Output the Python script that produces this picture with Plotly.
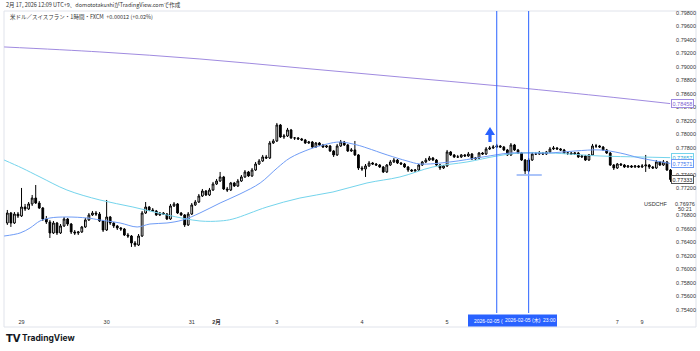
import plotly.graph_objects as go

# ---------------- data (hour index: 0 = 2026-01-29 00:00 JST, closed-market hours skipped) -------------
hours = list(range(-4, 184))
first_open = 0.76689
close = [
    0.76837, 0.76689, 0.76822, 0.76793,
    0.76926, 0.76897, 0.76971, 0.77059, 0.76985, 0.76911, 0.76748, 0.76704, 0.76541, 0.76689,
    0.76541, 0.76645, 0.76748, 0.76674, 0.76556, 0.76541, 0.76556, 0.76630, 0.76734, 0.76808,
    0.76837, 0.76822, 0.76719, 0.76585, 0.76778, 0.76689, 0.76645, 0.76615, 0.76600, 0.76511,
    0.76496, 0.76393, 0.76363, 0.76496, 0.76837, 0.76926, 0.76882, 0.76867, 0.76808, 0.76837,
    0.76822, 0.76748, 0.76941, 0.76971, 0.76837, 0.76808, 0.76660, 0.76822, 0.76956, 0.77000,
    0.77089, 0.77163, 0.77104, 0.77178, 0.77267, 0.77311, 0.77371, 0.77193, 0.77178, 0.77282,
    0.77237, 0.77311, 0.77371, 0.77445, 0.77386, 0.77474, 0.77563, 0.77608, 0.77667, 0.77652,
    0.77874, 0.77904, 0.78141, 0.77963, 0.77978, 0.78067, 0.77949, 0.77949, 0.77934, 0.77919,
    0.77874, 0.77889, 0.77815, 0.77874, 0.77845, 0.77815, 0.77830, 0.77756, 0.77697, 0.77830,
    0.77889, 0.77845, 0.77756, 0.77771, 0.77697, 0.77504, 0.77489, 0.77534, 0.77578, 0.77563,
    0.77548, 0.77519, 0.77445, 0.77548, 0.77593, 0.77622, 0.77578, 0.77563, 0.77519, 0.77474,
    0.77460, 0.77474, 0.77548, 0.77593, 0.77622, 0.77652, 0.77622, 0.77548, 0.77504, 0.77534,
    0.77741, 0.77697, 0.77667, 0.77667, 0.77697, 0.77682, 0.77711, 0.77637, 0.77652, 0.77726,
    0.77711, 0.77786, 0.77800, 0.77815, 0.77830, 0.77815, 0.77771, 0.77697, 0.77845, 0.77771,
    0.77726, 0.77622, 0.77460, 0.77622, 0.77711, 0.77711, 0.77726, 0.77711, 0.77741, 0.77786,
    0.77800, 0.77786, 0.77771, 0.77726, 0.77726, 0.77711, 0.77726, 0.77667, 0.77682, 0.77622,
    0.77697, 0.77830, 0.77830, 0.77815, 0.77771, 0.77726, 0.77548, 0.77504, 0.77563, 0.77548,
    0.77519, 0.77534, 0.77519, 0.77534, 0.77519, 0.77534, 0.77548, 0.77519, 0.77504, 0.77593,
    0.77548, 0.77593, 0.77474, 0.77333,
]
high = [
    0.76882, 0.76852, 0.76852, 0.76852,
    0.77208, 0.76971, 0.77000, 0.77104, 0.77252, 0.77015, 0.76926, 0.76793, 0.76734, 0.76719,
    0.76704, 0.76674, 0.76778, 0.76763, 0.76689, 0.76585, 0.76571, 0.76645, 0.76763, 0.76837,
    0.76867, 0.76867, 0.76852, 0.76734, 0.77030, 0.76793, 0.76704, 0.76660, 0.76630, 0.76615,
    0.76541, 0.76511, 0.76422, 0.76526, 0.76867, 0.77000, 0.76941, 0.76911, 0.76882, 0.76852,
    0.76852, 0.76837, 0.76971, 0.77000, 0.76985, 0.76852, 0.76822, 0.76852, 0.76985, 0.77030,
    0.77119, 0.77193, 0.77178, 0.77208, 0.77297, 0.77341, 0.77445, 0.77386, 0.77223, 0.77297,
    0.77297, 0.77341, 0.77400, 0.77474, 0.77460, 0.77504, 0.77593, 0.77637, 0.77697, 0.77697,
    0.77904, 0.77934, 0.78171, 0.78156, 0.78008, 0.78097, 0.78082, 0.77963, 0.77963, 0.77949,
    0.77934, 0.77904, 0.77904, 0.77889, 0.77889, 0.77860, 0.77845, 0.77845, 0.77771, 0.77860,
    0.77919, 0.77904, 0.77860, 0.77800, 0.77904, 0.77711, 0.77534, 0.77563, 0.77608, 0.77593,
    0.77578, 0.77563, 0.77534, 0.77563, 0.77622, 0.77652, 0.77637, 0.77593, 0.77578, 0.77534,
    0.77489, 0.77489, 0.77563, 0.77608, 0.77652, 0.77682, 0.77667, 0.77637, 0.77563, 0.77548,
    0.77771, 0.77756, 0.77711, 0.77697, 0.77711, 0.77711, 0.77741, 0.77726, 0.77667, 0.77741,
    0.77741, 0.77815, 0.77830, 0.77845, 0.77860, 0.77845, 0.77830, 0.77786, 0.77874, 0.77860,
    0.77786, 0.77741, 0.77637, 0.77652, 0.77741, 0.77741, 0.77756, 0.77741, 0.77756, 0.77815,
    0.77830, 0.77815, 0.77800, 0.77786, 0.77741, 0.77741, 0.77741, 0.77741, 0.77697, 0.77697,
    0.77711, 0.77860, 0.77860, 0.77845, 0.77830, 0.77786, 0.77741, 0.77563, 0.77578, 0.77578,
    0.77563, 0.77548, 0.77548, 0.77548, 0.77548, 0.77563, 0.77697, 0.77563, 0.77534, 0.77622,
    0.77608, 0.77622, 0.77608, 0.77489,
]
low = [
    0.76660, 0.76630, 0.76674, 0.76763,
    0.76778, 0.76867, 0.76882, 0.76941, 0.76971, 0.76897, 0.76719, 0.76674, 0.76467, 0.76526,
    0.76511, 0.76526, 0.76630, 0.76645, 0.76526, 0.76511, 0.76511, 0.76541, 0.76615, 0.76719,
    0.76793, 0.76793, 0.76704, 0.76556, 0.76571, 0.76660, 0.76615, 0.76585, 0.76571, 0.76496,
    0.76467, 0.76334, 0.76334, 0.76348, 0.76482, 0.76822, 0.76867, 0.76852, 0.76793, 0.76793,
    0.76808, 0.76734, 0.76734, 0.76926, 0.76822, 0.76793, 0.76630, 0.76645, 0.76808, 0.76941,
    0.76985, 0.77074, 0.77089, 0.77089, 0.77163, 0.77252, 0.77297, 0.77178, 0.77148, 0.77163,
    0.77223, 0.77223, 0.77297, 0.77356, 0.77371, 0.77371, 0.77460, 0.77548, 0.77593, 0.77637,
    0.77637, 0.77860, 0.77889, 0.77949, 0.77934, 0.77963, 0.77934, 0.77919, 0.77919, 0.77904,
    0.77860, 0.77860, 0.77800, 0.77800, 0.77830, 0.77800, 0.77800, 0.77741, 0.77667, 0.77682,
    0.77815, 0.77830, 0.77741, 0.77741, 0.77682, 0.77474, 0.77460, 0.77371, 0.77519, 0.77548,
    0.77534, 0.77504, 0.77430, 0.77430, 0.77534, 0.77578, 0.77563, 0.77548, 0.77504, 0.77445,
    0.77445, 0.77445, 0.77460, 0.77534, 0.77578, 0.77608, 0.77608, 0.77534, 0.77474, 0.77489,
    0.77519, 0.77682, 0.77652, 0.77652, 0.77652, 0.77667, 0.77667, 0.77622, 0.77622, 0.77637,
    0.77697, 0.77697, 0.77771, 0.77786, 0.77800, 0.77800, 0.77756, 0.77682, 0.77682, 0.77756,
    0.77711, 0.77608, 0.77415, 0.77445, 0.77608, 0.77697, 0.77697, 0.77697, 0.77697, 0.77726,
    0.77771, 0.77771, 0.77756, 0.77711, 0.77697, 0.77697, 0.77697, 0.77652, 0.77652, 0.77608,
    0.77608, 0.77682, 0.77800, 0.77800, 0.77756, 0.77711, 0.77534, 0.77474, 0.77489, 0.77534,
    0.77504, 0.77504, 0.77504, 0.77504, 0.77504, 0.77504, 0.77445, 0.77489, 0.77489, 0.77489,
    0.77534, 0.77534, 0.77460, 0.77297,
]
open_ = [first_open] + close[:-1]

# moving-average lines (hour index, price)
ma_long_h = [-4.9, 22.1, 50.3, 78.5, 106.7, 134.9, 163.1, 182.9]
ma_long_p = [0.79297, 0.79223, 0.79119, 0.78986, 0.78852, 0.78719, 0.78571, 0.78458]

ma_slow_h = [-4.9, 0.1, 5.2, 12.8, 22.1, 31.4, 41.0, 50.3, 56.0, 59.6, 69.2, 78.5, 87.8,
             97.4, 106.7, 116.0, 125.6, 134.1, 140.6, 149.0, 163.1, 174.4, 182.9]
ma_slow_p = [0.77622, 0.77504, 0.77371, 0.77178, 0.77030, 0.76926, 0.76808, 0.76719, 0.76719,
             0.76748, 0.76926, 0.77059, 0.77148, 0.77282, 0.77371, 0.77519, 0.77593, 0.77682,
             0.77726, 0.77726, 0.77682, 0.77667, 0.77657]

ma_fast_h = [-4.9, -0.4, 2.4, 5.2, 8.0, 12.8, 18.5, 22.1, 27.8, 32.6, 36.2, 41.0, 45.5, 50.3,
             56.0, 61.6, 67.3, 72.1, 75.7, 81.4, 86.2, 89.8, 94.6, 97.4, 103.1, 108.7, 112.4,
             120.8, 130.1, 137.8, 142.5, 149.0, 156.1, 163.1, 168.8, 174.4, 182.9]
ma_fast_p = [0.76496, 0.76541, 0.76615, 0.76719, 0.76763, 0.76778, 0.76763, 0.76734, 0.76689,
             0.76630, 0.76674, 0.76689, 0.76734, 0.76837, 0.76985, 0.77119, 0.77282, 0.77504,
             0.77652, 0.77786, 0.77860, 0.77889, 0.77845, 0.77800, 0.77697, 0.77608, 0.77563,
             0.77593, 0.77667, 0.77726, 0.77726, 0.77726, 0.77756, 0.77771, 0.77726, 0.77652,
             0.77571]

tick_hours = [0, 24, 48, 55, 72, 96, 120, 168, 175]
tick_text = ['29', '30', '31', '<b>2月</b>', '3', '4', '5', '7', '9']
# price-scale ticks (0.77600 and 0.77000 are hidden behind labels in the reference)
price_ticks = [0.754, 0.756, 0.758, 0.760, 0.762, 0.764, 0.766, 0.768, 0.772, 0.774,
               0.778, 0.780, 0.782, 0.784, 0.786, 0.788, 0.790, 0.792, 0.794, 0.796, 0.798]
price_tick_text = ['%.5f' % v for v in price_ticks]

vline_hours = [134, 143]
level_line = {'h0': 139.6, 'h1': 146.7, 'price': 0.77400}
arrow = {'h': 132.1, 'tip': 0.78112, 'base': 0.77993, 'bottom': 0.77889, 'half': 1.41, 'shaft': 0.45}

last_price = 0.77333
x_range = [-4.94, 183.7]
y_range = [0.753556, 0.798296]

# ---------------- figure ----------------
W, H = 700, 351
ML, MR, MT, MB = 4, 27, 11, 38
PW, PH = W - ML - MR, H - MT - MB


def px(xp):
    return (xp - ML) / PW


def py(yp):
    return (H - MB - yp) / PH


C_LONG = '#a08be0'
C_SLOW = '#74d4ec'
C_FAST = '#6f9cf6'
C_BLUE = '#2962ff'
NUMFONT = 'Liberation Sans, Noto Sans CJK JP'
JPFONT = 'Noto Sans CJK JP'

fig = go.Figure()
fig.add_trace(go.Scatter(x=ma_long_h, y=ma_long_p, mode='lines', line=dict(color=C_LONG, width=1, shape='spline'),
                         hoverinfo='skip', showlegend=False))
fig.add_trace(go.Scatter(x=ma_slow_h, y=ma_slow_p, mode='lines', line=dict(color=C_SLOW, width=1, shape='spline'),
                         hoverinfo='skip', showlegend=False))
fig.add_trace(go.Scatter(x=ma_fast_h, y=ma_fast_p, mode='lines', line=dict(color=C_FAST, width=1, shape='spline'),
                         hoverinfo='skip', showlegend=False))
fig.add_trace(go.Candlestick(
    x=hours, open=open_, high=high, low=low, close=close,
    increasing=dict(line=dict(color='#000000', width=1), fillcolor='#ffffff'),
    decreasing=dict(line=dict(color='#000000', width=1), fillcolor='#000000'),
    whiskerwidth=0, showlegend=False, hoverinfo='skip'))

shapes = []
for vh in vline_hours:
    shapes.append(dict(type='line', xref='x', yref='paper', x0=vh, x1=vh, y0=0, y1=1,
                       line=dict(color=C_BLUE, width=1)))
shapes.append(dict(type='line', xref='x', yref='y', x0=level_line['h0'], x1=level_line['h1'],
                   y0=level_line['price'], y1=level_line['price'], line=dict(color='#8fb1f7', width=1.5)))
a = arrow
path = ('M {l},{b} L {c},{t} L {r},{b} L {sr},{b} L {sr},{bt} L {sl},{bt} L {sl},{b} Z').format(
    l=a['h'] - a['half'], r=a['h'] + a['half'], c=a['h'], t=a['tip'], b=a['base'], bt=a['bottom'],
    sl=a['h'] - a['shaft'], sr=a['h'] + a['shaft'])
shapes.append(dict(type='path', xref='x', yref='y', path=path, fillcolor=C_BLUE, line=dict(width=0)))
# frame
shapes.append(dict(type='rect', xref='paper', yref='paper', x0=px(4), x1=px(696), y0=py(327), y1=py(11),
                   line=dict(color='#e0e3eb', width=1), layer='below'))
# time-axis highlight box
shapes.append(dict(type='rect', xref='paper', yref='paper', x0=px(468), x1=px(557), y0=py(326.5), y1=py(314.5),
                   fillcolor=C_BLUE, line=dict(width=0)))

ann = []
ann.append(dict(text='2月 17, 2026 12:09 UTC+9、domototakushiがTradingView.comで作成', xref='paper', yref='paper',
                x=px(4), y=py(5), xanchor='left', yanchor='middle', showarrow=False,
                font=dict(size=5.5, color='#333333', family=JPFONT)))
ann.append(dict(text='米ドル／スイスフラン・1時間・FXCM  +0.00012 (+0.02%)', xref='paper', yref='paper',
                x=px(8), y=py(17), xanchor='left', yanchor='middle', showarrow=False,
                font=dict(size=5.5, color='#333333', family=JPFONT)))
ann.append(dict(text='2026-02-05 (', xref='paper', yref='paper', x=px(472), y=py(320.5), xanchor='left',
                yanchor='middle', showarrow=False, font=dict(size=5, color='#ffffff', family=NUMFONT)))
ann.append(dict(text='2026-02-05 (木)  23:00', xref='paper', yref='paper', x=px(503), y=py(320.5),
                xanchor='left', yanchor='middle', showarrow=False,
                font=dict(size=5, color='#ffffff', family=NUMFONT)))


# price-scale labels
def price_box(val, color, text_color):
    return dict(text='%.5f' % val, xref='paper', yref='y', x=px(671), y=val, xanchor='left', yanchor='middle',
                showarrow=False, bgcolor='#ffffff', bordercolor=color, borderwidth=1, borderpad=0.5,
                font=dict(size=5.5, color=text_color, family='Liberation Sans'))


ann.append(price_box(ma_long_p[-1], C_LONG, '#7e5fd0'))
ann.append(price_box(ma_slow_p[-1], C_SLOW, '#2aa9d6'))
ann.append(price_box(ma_fast_p[-1], C_FAST, '#3f78ee'))
ann.append(price_box(last_price, '#555555', '#222222'))
ann.append(dict(text='USDCHF', xref='paper', yref='y', x=px(670), y=0.76976, xanchor='right', yanchor='middle',
                showarrow=False, font=dict(size=5.5, color='#333333', family='Liberation Sans')))
ann.append(dict(text='0.76976', xref='paper', yref='y', x=px(673), y=0.76976, xanchor='left', yanchor='middle',
                showarrow=False, font=dict(size=5.5, color='#333333', family='Liberation Sans')))
ann.append(dict(text='50:21', xref='paper', yref='y', x=px(676), y=0.76976, yshift=-5.5, xanchor='left',
                yanchor='middle', showarrow=False,
                font=dict(size=5.5, color='#333333', family='Liberation Sans')))
# footer logo
ann.append(dict(text='<b>TV</b>', xref='paper', yref='paper', x=px(4), y=py(338), xanchor='left', yanchor='middle',
                showarrow=False, font=dict(size=10, color='#131722', family='DejaVu Sans')))
ann.append(dict(text='<b>TradingView</b>', xref='paper', yref='paper', x=px(20), y=py(338), xanchor='left',
                yanchor='middle', showarrow=False, font=dict(size=8.5, color='#131722', family='Inter')))

fig.update_layout(
    width=W, height=H, margin=dict(l=ML, r=MR, t=MT, b=MB),
    paper_bgcolor='#ffffff', plot_bgcolor='#ffffff',
    shapes=shapes, annotations=ann, showlegend=False,
    xaxis=dict(range=x_range, showgrid=False, zeroline=False, showline=False, rangeslider=dict(visible=False),
               tickmode='array', tickvals=tick_hours, ticktext=tick_text, ticks='outside', ticklen=3,
               tickcolor='rgba(0,0,0,0)', tickfont=dict(size=5.5, color='#333333', family=NUMFONT), fixedrange=True),
    yaxis=dict(range=y_range, side='right', showgrid=False, zeroline=False, showline=False,
               tickmode='array', tickvals=price_ticks, ticktext=price_tick_text, ticks='outside', ticklen=1,
               tickcolor='rgba(0,0,0,0)', tickfont=dict(size=5.5, color='#333333', family='Liberation Sans'),
               fixedrange=True),
)

fig.write_html('out.html')
